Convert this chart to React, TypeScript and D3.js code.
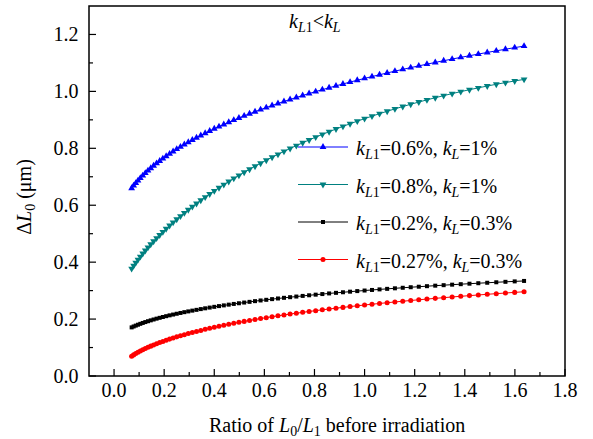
import React from 'react';
import * as d3 from 'd3';

// Ratio of L0/L1 (x values of the markers)
const ratio = [0.0702,0.0782,0.0867,0.0955,0.1048,0.1146,0.1248,0.1354,0.1464,0.1578,
0.1697,0.1821,0.1948,0.2080,0.2217,0.2357,0.2502,0.2651,0.2805,0.2963,
0.3125,0.3291,0.3462,0.3637,0.3817,0.4001,0.4189,0.4381,0.4578,0.4779,
0.4984,0.5194,0.5408,0.5627,0.5849,0.6076,0.6308,0.6543,0.6783,0.7027,
0.7276,0.7529,0.7786,0.8048,0.8314,0.8584,0.8859,0.9137,0.9421,0.9708,
1.0000,1.0296,1.0597,1.0901,1.1211,1.1524,1.1842,1.2164,1.2490,1.2821,
1.3156,1.3495,1.3839,1.4187,1.4540,1.4896,1.5257,1.5623,1.5992,1.6366];

// kL1=0.6%, kL=1%
const seriesBlue = [0.6599,0.6688,0.6777,0.6866,0.6954,0.7041,0.7128,0.7215,0.7301,0.7386,
0.7471,0.7556,0.7640,0.7723,0.7806,0.7889,0.7971,0.8052,0.8133,0.8214,
0.8294,0.8373,0.8452,0.8530,0.8608,0.8686,0.8763,0.8839,0.8915,0.8990,
0.9065,0.9140,0.9213,0.9287,0.9360,0.9432,0.9504,0.9575,0.9646,0.9717,
0.9786,0.9856,0.9924,0.9993,1.0061,1.0128,1.0195,1.0261,1.0327,1.0392,
1.0457,1.0521,1.0585,1.0648,1.0711,1.0773,1.0835,1.0896,1.0957,1.1017,
1.1077,1.1136,1.1195,1.1253,1.1311,1.1368,1.1425,1.1481,1.1537,1.1592];

// kL1=0.8%, kL=1%
const seriesTeal = [0.3773,0.3877,0.3982,0.4088,0.4195,0.4302,0.4409,0.4517,0.4626,0.4735,
0.4845,0.4954,0.5064,0.5175,0.5285,0.5396,0.5507,0.5618,0.5729,0.5840,
0.5951,0.6062,0.6173,0.6283,0.6394,0.6504,0.6614,0.6723,0.6832,0.6941,
0.7049,0.7157,0.7263,0.7370,0.7476,0.7581,0.7685,0.7788,0.7891,0.7993,
0.8094,0.8194,0.8293,0.8391,0.8487,0.8583,0.8677,0.8771,0.8862,0.8953,
0.9042,0.9130,0.9217,0.9302,0.9385,0.9467,0.9547,0.9625,0.9702,0.9777,
0.9850,0.9922,0.9991,1.0059,1.0124,1.0188,1.0250,1.0309,1.0366,1.0421];

// kL1=0.2%, kL=0.3%
const seriesBlack = [0.1708,0.1740,0.1771,0.1802,0.1833,0.1864,0.1895,0.1925,0.1955,0.1985,
0.2015,0.2044,0.2073,0.2102,0.2131,0.2159,0.2187,0.2215,0.2243,0.2270,
0.2297,0.2324,0.2351,0.2378,0.2404,0.2430,0.2456,0.2481,0.2507,0.2532,
0.2556,0.2581,0.2605,0.2630,0.2654,0.2677,0.2701,0.2724,0.2747,0.2769,
0.2792,0.2814,0.2836,0.2858,0.2879,0.2901,0.2922,0.2942,0.2963,0.2983,
0.3003,0.3023,0.3043,0.3062,0.3081,0.3100,0.3119,0.3137,0.3156,0.3174,
0.3191,0.3209,0.3226,0.3243,0.3260,0.3276,0.3293,0.3309,0.3324,0.3340];

// kL1=0.27%, kL=0.3%
const seriesRed = [0.0697,0.0742,0.0787,0.0832,0.0876,0.0920,0.0964,0.1007,0.1049,0.1091,
0.1133,0.1174,0.1215,0.1256,0.1296,0.1335,0.1375,0.1414,0.1452,0.1490,
0.1528,0.1565,0.1602,0.1639,0.1675,0.1711,0.1747,0.1782,0.1817,0.1851,
0.1885,0.1919,0.1952,0.1985,0.2018,0.2050,0.2082,0.2114,0.2145,0.2176,
0.2206,0.2237,0.2267,0.2296,0.2325,0.2354,0.2383,0.2411,0.2439,0.2467,
0.2495,0.2522,0.2548,0.2575,0.2601,0.2627,0.2653,0.2678,0.2703,0.2728,
0.2752,0.2777,0.2800,0.2824,0.2847,0.2871,0.2893,0.2916,0.2938,0.2960];

const xTicks = [0.0, 0.2, 0.4, 0.6, 0.8, 1.0, 1.2, 1.4, 1.6, 1.8];
const xMinor = [0.1, 0.3, 0.5, 0.7, 0.9, 1.1, 1.3, 1.5, 1.7];
const yTicks = [0.0, 0.2, 0.4, 0.6, 0.8, 1.0, 1.2];
const yMinor = [0.1, 0.3, 0.5, 0.7, 0.9, 1.1];

const legendKL1 = ['0.6%', '0.8%', '0.2%', '0.27%'];
const legendKL = ['1%', '1%', '0.3%', '0.3%'];

const FONT = "'Liberation Serif', 'Times New Roman', 'DejaVu Serif', serif";
const textStyle: React.CSSProperties = { fontFamily: FONT };

type Series = { values: number[]; color: string; lineColor: string; marker: string };

const series: Series[] = [
  { values: seriesBlue, color: '#0000ff', lineColor: '#0000ff', marker: 'up' },
  { values: seriesTeal, color: '#008080', lineColor: '#008080', marker: 'down' },
  { values: seriesBlack, color: '#000000', lineColor: '#000000', marker: 'square' },
  { values: seriesRed, color: '#ff0000', lineColor: '#ff0000', marker: 'circle' },
];

function markerPath(kind: string): { d: string; rot: number } {
  if (kind === 'up') return { d: d3.symbol().type(d3.symbolTriangle).size(20)() as string, rot: 0 };
  if (kind === 'down') return { d: d3.symbol().type(d3.symbolTriangle).size(20)() as string, rot: 180 };
  if (kind === 'square') return { d: d3.symbol().type(d3.symbolSquare).size(16)() as string, rot: 0 };
  return { d: d3.symbol().type(d3.symbolCircle).size(20)() as string, rot: 0 };
}

function KLabel({ x, y, k1, k }: { x: number; y: number; k1: string; k: string }) {
  return (
    <text x={x} y={y} style={textStyle} fontSize={20} fill="#000">
      <tspan fontStyle="italic">k</tspan>
      <tspan dy={4} fontSize={14}><tspan fontStyle="italic">L</tspan>1</tspan>
      <tspan dy={-4}>={k1}, </tspan>
      <tspan fontStyle="italic">k</tspan>
      <tspan dy={4} fontSize={14} fontStyle="italic">L</tspan>
      <tspan dy={-4}>={k}</tspan>
    </text>
  );
}

export default function App() {
  const W = 593, H = 439;
  const left = 89, right = 565, top = 6, bottom = 376;
  const x = d3.scaleLinear().domain([-0.1, 1.8]).range([left, right]);
  const y = d3.scaleLinear().domain([0, 1.3]).range([bottom, top]);
  const fmt = d3.format('.1f');

  const legendY = [147, 184.5, 222, 259.5];

  return (
    <svg width={W} height={H} style={{ position: 'absolute', left: 0, top: 0, background: '#fff' }}>
      <rect x={0} y={0} width={W} height={H} fill="#fff" />
      {series.map((s, si) => {
        const pts = s.values.map((v, i) => [ratio[i], v] as [number, number]);
        const line = d3.line<[number, number]>().x(d => x(d[0])).y(d => y(d[1]));
        const m = markerPath(s.marker);
        return (
          <g key={si}>
            <path d={line(pts) as string} fill="none" stroke={s.lineColor} strokeWidth={1} />
            {pts.map((p, i) => (
              <path key={i} d={m.d} fill={s.color}
                transform={`translate(${x(p[0])},${y(p[1])}) rotate(${m.rot})`} />
            ))}
          </g>
        );
      })}

      <rect x={left} y={top} width={right - left} height={bottom - top} fill="none" stroke="#000" strokeWidth={1.5} />

      {xTicks.map((t, i) => (
        <g key={'xt' + i}>
          <line x1={x(t)} x2={x(t)} y1={bottom} y2={bottom - 7} stroke="#000" strokeWidth={1.2} />
          <text x={x(t)} y={396.5} textAnchor="middle" style={textStyle} fontSize={20} fill="#000">{fmt(t)}</text>
        </g>
      ))}
      {xMinor.map((t, i) => (
        <line key={'xm' + i} x1={x(t)} x2={x(t)} y1={bottom} y2={bottom - 4} stroke="#000" strokeWidth={1.2} />
      ))}
      {yTicks.map((t, i) => (
        <g key={'yt' + i}>
          <line x1={left} x2={left + 7} y1={y(t)} y2={y(t)} stroke="#000" strokeWidth={1.2} />
          <text x={78.5} y={y(t) + 6.5} textAnchor="end" style={textStyle} fontSize={20} fill="#000">{fmt(t)}</text>
        </g>
      ))}
      {yMinor.map((t, i) => (
        <line key={'ym' + i} x1={left} x2={left + 4} y1={y(t)} y2={y(t)} stroke="#000" strokeWidth={1.2} />
      ))}

      <text x={209} y={432} style={textStyle} fontSize={20} fill="#000">
        <tspan>Ratio of </tspan>
        <tspan fontStyle="italic">L</tspan>
        <tspan dy={4} fontSize={14}>0</tspan>
        <tspan dy={-4}>/</tspan>
        <tspan fontStyle="italic">L</tspan>
        <tspan dy={4} fontSize={14}>1</tspan>
        <tspan dy={-4}> before irradiation</tspan>
      </text>
      <text transform="translate(31,197) rotate(-90)" textAnchor="middle" style={textStyle} fontSize={20} fill="#000">
        <tspan>Δ</tspan>
        <tspan fontStyle="italic">L</tspan>
        <tspan dy={4} fontSize={14}>0</tspan>
        <tspan dy={-4}> (μm)</tspan>
      </text>

      <text x={289} y={28} style={textStyle} fontSize={20} fill="#000">
        <tspan fontStyle="italic">k</tspan>
        <tspan dy={4} fontSize={14}><tspan fontStyle="italic">L</tspan>1</tspan>
        <tspan dy={-4}>&lt;</tspan>
        <tspan fontStyle="italic">k</tspan>
        <tspan dy={4} fontSize={14} fontStyle="italic">L</tspan>
      </text>

      {series.map((s, i) => {
        const m = markerPath(s.marker);
        const ly = legendY[i];
        return (
          <g key={'lg' + i}>
            <line x1={298} x2={348} y1={ly} y2={ly} stroke={s.lineColor} strokeWidth={1} />
            <path d={m.d} fill={s.color} transform={`translate(323,${ly}) rotate(${m.rot})`} />
            <KLabel x={356} y={ly + 8} k1={legendKL1[i]} k={legendKL[i]} />
          </g>
        );
      })}
    </svg>
  );
}
